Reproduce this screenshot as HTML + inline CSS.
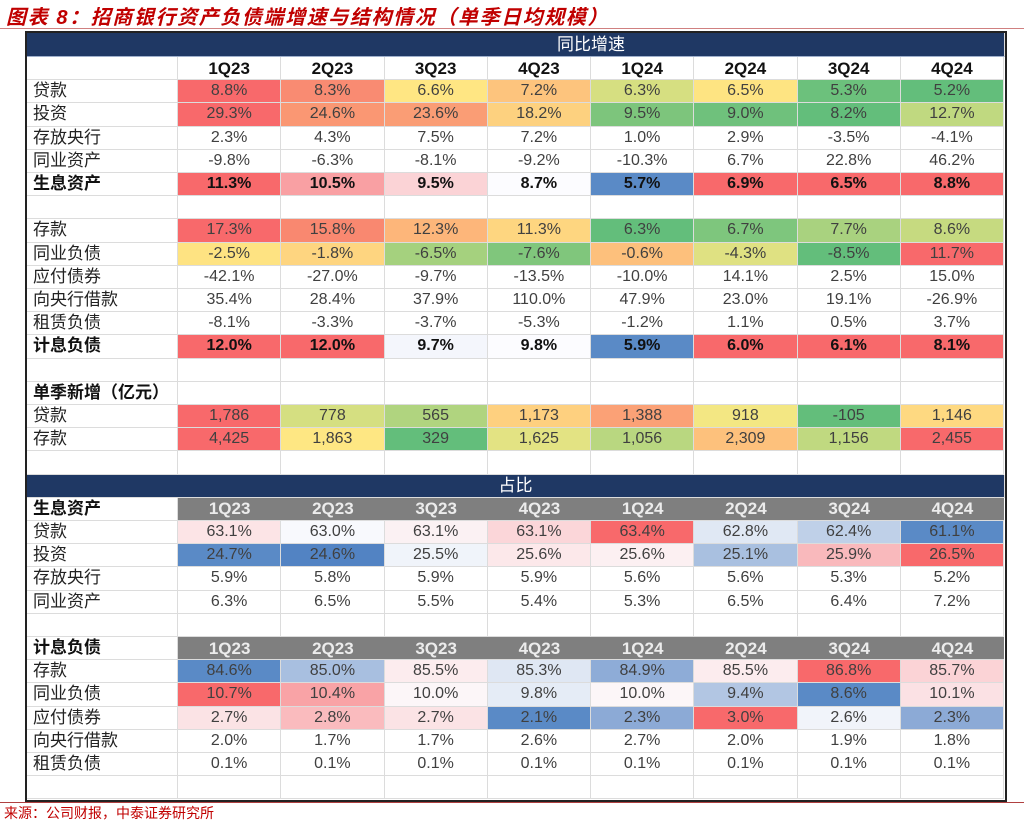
<!DOCTYPE html>
<html><head><meta charset="utf-8">
<style>
body{margin:0;width:1024px;height:821px;background:#fff;position:relative;overflow:hidden;font-family:"Liberation Sans","Noto Sans CJK SC",sans-serif;}
.abs{position:absolute;box-sizing:border-box;}
#title{left:6px;top:1px;font-size:20px;font-weight:bold;font-style:italic;color:#c00000;white-space:nowrap;letter-spacing:1.6px;}
#tline{left:0;top:28px;width:1024px;height:1px;background:#d08080;}
#bline{left:0;top:802px;width:1024px;height:1px;background:#b04040;}
#src{left:4px;top:803px;font-size:14px;color:#c00000;white-space:nowrap;}
#frame{left:25px;top:31px;width:982px;height:771px;border:2px solid #222;background:#fff;}
.c{position:absolute;box-sizing:border-box;display:flex;align-items:center;justify-content:center;font-size:16px;color:#404040;border-right:1px solid #dcdcdc;border-bottom:1px solid #dcdcdc;white-space:nowrap;line-height:1;}
.lab{justify-content:flex-start;padding-left:6px;padding-bottom:1px;color:#222;font-size:17px;}
.b{font-weight:bold;color:#111;}
</style></head><body>
<div class="abs" id="title">图表 8：招商银行资产负债端增速与结构情况（单季日均规模）</div>
<div class="abs" id="tline"></div>
<div class="abs" id="frame"></div>
<div class="abs" id="bline"></div>
<div class="abs" id="src">来源：公司财报，中泰证券研究所</div>
<script>
const quarters=["1Q23","2Q23","3Q23","4Q23","1Q24","2Q24","3Q24","4Q24"];
const R="#f8696b";
const yoyLoan=["8.8%","8.3%","6.6%","7.2%","6.3%","6.5%","5.3%","5.2%"];
const yoyLoanC=[R,"#f98b72","#ffe683","#fdc47d","#d6df81","#fee482","#6cc17c","#63be7b"];
const yoyInv=["29.3%","24.6%","23.6%","18.2%","9.5%","9.0%","8.2%","12.7%"];
const yoyInvC=[R,"#fa9773","#fa9d75","#fdd17f","#7dc57c","#6fc17c","#63be7b","#c0d980"];
const yoyCB=["2.3%","4.3%","7.5%","7.2%","1.0%","2.9%","-3.5%","-4.1%"];
const yoyIB=["-9.8%","-6.3%","-8.1%","-9.2%","-10.3%","6.7%","22.8%","46.2%"];
const yoyIEA=["11.3%","10.5%","9.5%","8.7%","5.7%","6.9%","6.5%","8.8%"];
const yoyIEAC=[R,"#f9a0a3","#fbd3d6","#fcfcff","#5a8ac6",R,R,R];
const yoyDep=["17.3%","15.8%","12.3%","11.3%","6.3%","6.7%","7.7%","8.6%"];
const yoyDepC=[R,"#f98870","#fdb67a","#fed680","#63be7b","#7ec67d","#a9d27f","#c6da80"];
const yoyIBL=["-2.5%","-1.8%","-6.5%","-7.6%","-0.6%","-4.3%","-8.5%","11.7%"];
const yoyIBLC=["#fee382","#fed580","#a5d17e","#80c67c","#fdc07c","#dfe182","#63be7b",R];
const yoyBond=["-42.1%","-27.0%","-9.7%","-13.5%","-10.0%","14.1%","2.5%","15.0%"];
const yoyCBB=["35.4%","28.4%","37.9%","110.0%","47.9%","23.0%","19.1%","-26.9%"];
const yoyLease=["-8.1%","-3.3%","-3.7%","-5.3%","-1.2%","1.1%","0.5%","3.7%"];
const yoyIBLt=["12.0%","12.0%","9.7%","9.8%","5.9%","6.0%","6.1%","8.1%"];
const yoyIBLtC=[R,R,"#f4f6fc","#fcfcff","#5a8ac6",R,R,R];
const newLoan=["1,786","778","565","1,173","1,388","918","-105","1,146"];
const newLoanC=[R,"#d5df81","#b0d47f","#fed07f","#fba176","#f3e783","#63be7b","#fed981"];
const newDep=["4,425","1,863","329","1,625","1,056","2,309","1,156","2,455"];
const newDepC=[R,"#fee783","#63be7b","#e3e383","#b9d780","#fdc17c","#c0d980",R];
const shLoan=["63.1%","63.0%","63.1%","63.1%","63.4%","62.8%","62.4%","61.1%"];
const shLoanC=["#fce4e6","#f8f9fd","#fbf1f3","#fbd6d9",R,"#e0e8f4","#bfd0e8","#5a8ac6"];
const shInv=["24.7%","24.6%","25.5%","25.6%","25.6%","25.1%","25.9%","26.5%"];
const shInvC=["#5a8ac6","#5283c3","#f0f4fa","#fce8ea","#fcf0f2","#a9c0e0","#f9b9bc",R];
const shCB=["5.9%","5.8%","5.9%","5.9%","5.6%","5.6%","5.3%","5.2%"];
const shIB=["6.3%","6.5%","5.5%","5.4%","5.3%","6.5%","6.4%","7.2%"];
const shDep=["84.6%","85.0%","85.5%","85.3%","84.9%","85.5%","86.8%","85.7%"];
const shDepC=["#5a8ac6","#a8bfe0","#fcecee","#dfe7f3","#8eacd7","#fcecee",R,"#fbd3d6"];
const shIBL=["10.7%","10.4%","10.0%","9.8%","10.0%","9.4%","8.6%","10.1%"];
const shIBLC=[R,"#f9a3a6","#fcf6f8","#e5ecf6","#fcf6f8","#b2c6e3","#5a8ac6","#fbe1e4"];
const shBond=["2.7%","2.8%","2.7%","2.1%","2.3%","3.0%","2.6%","2.3%"];
const shBondC=["#fbe3e5","#fabbbe","#fbe3e5","#5a8ac6","#8caad6",R,"#f1f4fa","#8caad6"];
const shCBB=["2.0%","1.7%","1.7%","2.6%","2.7%","2.0%","1.9%","1.8%"];
const shLease=["0.1%","0.1%","0.1%","0.1%","0.1%","0.1%","0.1%","0.1%"];

const rows=[
 {t:"hdr"},
 {l:"贷款",v:yoyLoan,c:yoyLoanC,n:"yoy-loans"},
 {l:"投资",v:yoyInv,c:yoyInvC,n:"yoy-investments"},
 {l:"存放央行",v:yoyCB,n:"yoy-central-bank-deposits"},
 {l:"同业资产",v:yoyIB,n:"yoy-interbank-assets"},
 {l:"生息资产",v:yoyIEA,c:yoyIEAC,b:1,n:"yoy-earning-assets"},
 {t:"blank"},
 {l:"存款",v:yoyDep,c:yoyDepC,n:"yoy-deposits"},
 {l:"同业负债",v:yoyIBL,c:yoyIBLC,n:"yoy-interbank-liabilities"},
 {l:"应付债券",v:yoyBond,n:"yoy-bonds-payable"},
 {l:"向央行借款",v:yoyCBB,n:"yoy-central-bank-borrowing"},
 {l:"租赁负债",v:yoyLease,n:"yoy-lease-liabilities"},
 {l:"计息负债",v:yoyIBLt,c:yoyIBLtC,b:1,n:"yoy-interest-liabilities"},
 {t:"blank"},
 {l:"单季新增（亿元）",b:1,n:"quarterly-increase-section"},
 {l:"贷款",v:newLoan,c:newLoanC,n:"new-loans"},
 {l:"存款",v:newDep,c:newDepC,n:"new-deposits"},
 {t:"blank"},
 {t:"navy",l:"占比"},
 {t:"gray",l:"生息资产",n:"share-assets-header"},
 {l:"贷款",v:shLoan,c:shLoanC,n:"share-loans"},
 {l:"投资",v:shInv,c:shInvC,n:"share-investments"},
 {l:"存放央行",v:shCB,n:"share-central-bank-deposits"},
 {l:"同业资产",v:shIB,n:"share-interbank-assets"},
 {t:"blank"},
 {t:"gray",l:"计息负债",n:"share-liabilities-header"},
 {l:"存款",v:shDep,c:shDepC,n:"share-deposits"},
 {l:"同业负债",v:shIBL,c:shIBLC,n:"share-interbank-liabilities"},
 {l:"应付债券",v:shBond,c:shBondC,n:"share-bonds-payable"},
 {l:"向央行借款",v:shCBB,n:"share-central-bank-borrowing"},
 {l:"租赁负债",v:shLease,n:"share-lease-liabilities"},
 {t:"blank"}
];
const X0=27,LW=151,CW=103.25,Y0=57,RH=23.2,W=978;
function cell(x,y,w,h,txt,cls,bg){
  const d=document.createElement('div');
  d.className='c '+(cls||'');
  d.style.left=x+'px';d.style.top=y+'px';d.style.width=w+'px';d.style.height=h+'px';
  if(bg)d.style.background=bg;
  d.textContent=txt||'';
  document.body.appendChild(d);return d;
}
const nb=cell(X0,33,W,24,'同比增速','',"#1f3864");
nb.style.color='#fff';nb.style.fontSize='17px';nb.style.paddingLeft='151px';nb.style.borderBottom='1px solid #9fb0cc';


rows.forEach((r,i)=>{
  const y=Y0+i*RH;
  if(r.t==="navy"){
    const d=cell(X0,y,W,RH,r.l,'',"#1f3864");
    d.style.color='#fff';d.style.fontSize='17px';
    
    
    return;
  }
  const L=cell(X0,y,LW,RH,r.t==="blank"?'':(r.l||''),'lab'+(r.b||r.t==="gray"?' b':''),'#fff');
  
  
  for(let j=0;j<8;j++){
    const x=X0+LW+j*CW;
    let d;
    if(r.t==="hdr"){
      d=cell(x,y,CW,RH,quarters[j],'b','#fff');d.style.fontSize='17px';
    }else if(r.t==="gray"){
      d=cell(x,y,CW,RH,quarters[j],'','#7f7f7f');d.style.color='#ececec';d.style.fontSize='17px';d.style.fontWeight='bold';d.style.borderRight='none';
    }else if(r.v){
      d=cell(x,y,CW,RH,r.v[j],r.b?'b':'',r.c?r.c[j]:'#fff');
    }else{
      d=cell(x,y,CW,RH,'','','#fff');
    }
    
    
  }
});
</script>
</body></html>
